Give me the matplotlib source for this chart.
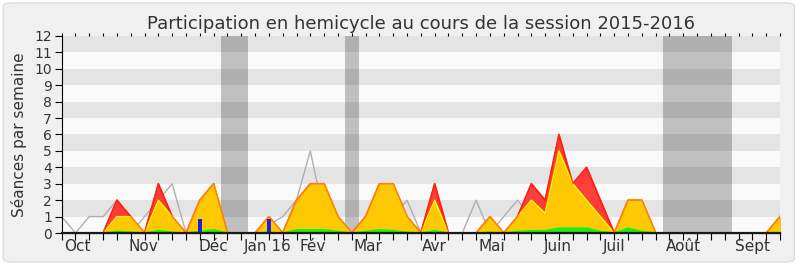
import matplotlib.pyplot as plt
from matplotlib.patches import FancyBboxPatch

# one point per week of the session
weeks = list(range(53))

presence = [0, 0, 0, 0,
            2, 1, 0, 3, 1, 0,
            2, 3, 0, 0, 0, 1, 0,
            2, 3, 3, 1, 0, 1, 3, 3, 1, 0,
            3, 0, 0, 0, 1, 0, 1,
            3, 2, 6, 3, 4, 2, 0, 2, 2, 0,
            0, 0, 0, 0, 0, 0, 0, 0, 1]

participation = [0, 0, 0, 0,
                 1, 1, 0, 2, 1, 0,
                 2, 3, 0, 0, 0, 1, 0,
                 2, 3, 3, 1, 0, 1, 3, 3, 1, 0,
                 2, 0, 0, 0, 1, 0, 1,
                 2, 1.2, 5, 3, 2, 1, 0, 2, 2, 0,
                 0, 0, 0, 0, 0, 0, 0, 0, 1]

mots = [0, 0, 0, 0,
        0.1, 0.05, 0, 0.15, 0.05, 0,
        0.1, 0.2, 0, 0, 0, 0.05, 0,
        0.2, 0.2, 0.2, 0.1, 0, 0.1, 0.2, 0.15, 0.05, 0,
        0.15, 0, 0, 0, 0.05, 0, 0.1,
        0.15, 0.15, 0.3, 0.3, 0.3, 0.1, 0, 0.3, 0.1, 0,
        0, 0, 0, 0, 0, 0, 0, 0, 0]

mediane = [1, 0, 1, 1,
           2, 0, 1, 2, 3, 0,
           1, 2, 0, 0, 0, 0.5, 1,
           2, 5, 1, 0, 0, 0, 1, 1, 2, 0,
           0, 0, 0, 2, 0, 1, 2,
           1, 0, 0, 0, 1, 2, 0, 1, 0, 0,
           0, 0, 0, 0, 0, 0, 0, 0, 0]

questions_weeks = [10, 15]
questions = [0.85, 0.85]

vacances = [(11.5, 13.5), (20.5, 21.5), (43.5, 48.5)]

months = ['Oct', 'Nov', 'Déc', 'Jan 16', 'Fév', 'Mar', 'Avr', 'Mai',
          'Juin', 'Juil', 'Août', 'Sept']
month_weeks = [1.1, 5.9, 11.0, 14.9, 18.15, 22.15, 27.0, 31.15,
               35.9, 40.0, 45.0, 50.0]

plt.rcParams['font.family'] = 'DejaVu Sans'

fig = plt.figure(figsize=(8, 2.67), dpi=100, facecolor='white')
fig.patches.append(FancyBboxPatch((0.004, 0.019), 0.989, 0.970,
                                  boxstyle='round,pad=0,rounding_size=0.012',
                                  transform=fig.transFigure,
                                  facecolor='#f0f0f0', edgecolor='#dddddd',
                                  linewidth=1, zorder=-10))
ax = fig.add_axes([0.0771, 0.1273, 0.8979, 0.738])
ax.set_facecolor('#fafafa')

# background stripes and holiday bands
for a, b in vacances:
    ax.axvspan(a, b, color='#c0c0c0', lw=0, zorder=0.5)
for k in range(1, 12, 2):
    ax.axhspan(k, k + 1, color='black', alpha=0.085, lw=0, zorder=1)

ax.plot(weeks, mediane, color='#b0b0b0', lw=1, zorder=2)

ax.fill_between(weeks, 0, presence, color='#ff2a2a', alpha=0.9, lw=0, zorder=3)
ax.plot(weeks, presence, color='#ff1010', lw=1.2, zorder=3.1)
ax.fill_between(weeks, 0, participation, color='#ffd200', alpha=0.95, lw=0, zorder=4)
ax.plot(weeks, participation, color='#ffff00', lw=1, zorder=4.1)
ax.plot(weeks, presence, color='#ff3000', lw=1, alpha=0.6, zorder=4.2)
ax.fill_between(weeks, 0, mots, color='#22e622', lw=0, zorder=5)
ax.plot(weeks, mots, color='#00ff00', lw=1, zorder=5.1)

ax.bar(questions_weeks, questions, width=0.3, color='#2020dd', zorder=6)

# dark zero line over everything
ax.axhline(0, color='#1a1a1a', lw=1.6, zorder=8, clip_on=False)

ax.set_xlim(0, 52)
ax.set_ylim(0, 12)
ax.set_yticks(range(13))
ax.set_xticks(weeks)
ax.set_xticklabels([])
ax.tick_params(axis='y', direction='out', length=5, labelsize=10, pad=2,
               labelcolor='#333333')
ax.tick_params(axis='x', direction='out', length=5, top=True)
for t in ax.xaxis.get_ticklines()[1::2]:
    t.set_markersize(2)
    t.set_color('#222222')

for sp in ['top', 'right']:
    ax.spines[sp].set_visible(False)
for sp in ['left', 'bottom']:
    ax.spines[sp].set_color('black')
    ax.spines[sp].set_zorder(7)

for m, w in zip(months, month_weeks):
    ax.text(w, -0.35, m, ha='center', va='top', fontsize=11,
            color='#333333')

ax.set_ylabel('Séances par semaine', fontsize=11, color='#333333',
              labelpad=5)
ax.set_title('Participation en hemicycle au cours de la session 2015-2016',
             fontsize=13, color='#333333', pad=5)

fig.savefig('out.png', dpi=100, facecolor=fig.get_facecolor())
